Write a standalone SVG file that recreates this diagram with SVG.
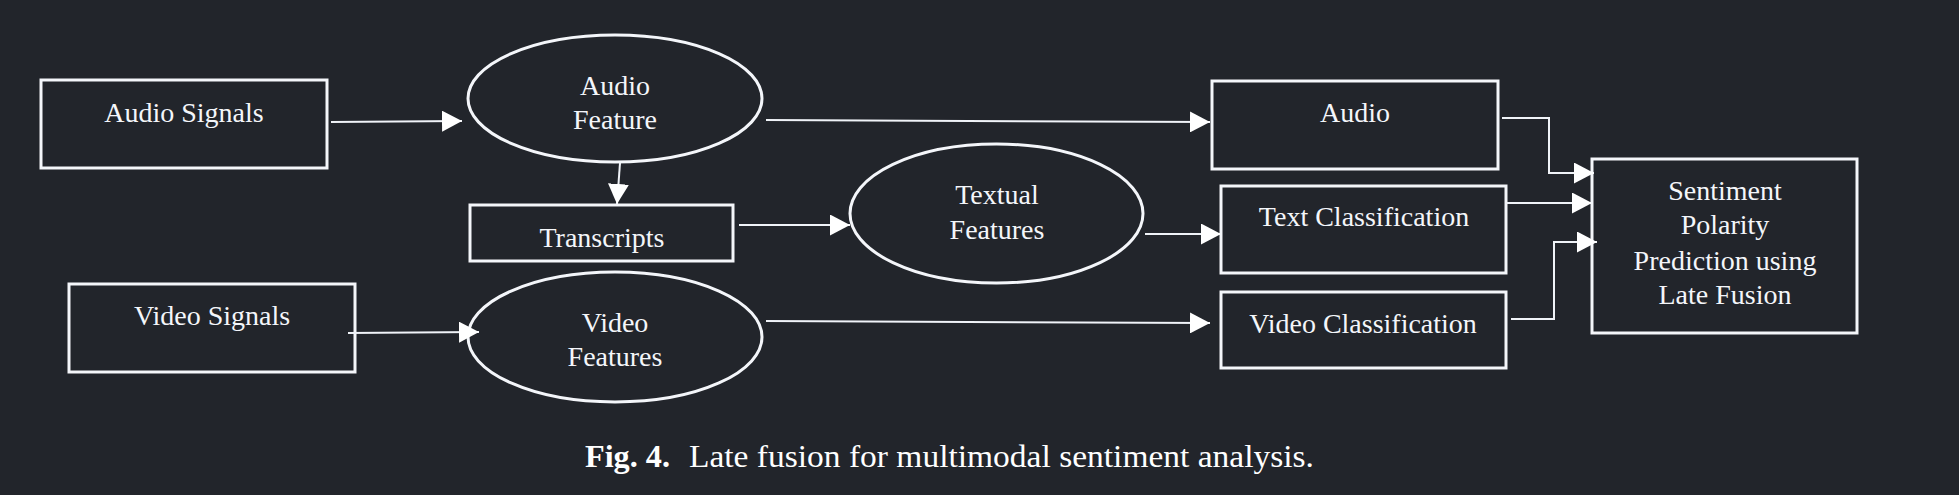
<svg xmlns="http://www.w3.org/2000/svg" width="1959" height="495" viewBox="0 0 1959 495">
<style>
.bg{fill:#22252b}
.box{fill:none;stroke:#f4f6fa;stroke-width:3}
.lbl{font-family:"Liberation Serif","Times New Roman",serif;font-size:28px;fill:#f4f6fa;text-anchor:middle}
.cap{font-family:"Liberation Serif","Times New Roman",serif;font-size:31px;fill:#ffffff}
.con{fill:none;stroke:#f0f3f8;stroke-width:2;marker-end:url(#ah)}
</style>
<defs>
<marker id="ah" viewBox="0 0 20 21" refX="20" refY="10.5" markerWidth="20" markerHeight="21" markerUnits="userSpaceOnUse" orient="auto">
<path d="M0,0 L20,10.5 L0,21 z" fill="#ffffff"/>
</marker>
</defs>
<rect class="bg" x="0" y="0" width="1959" height="495"/>
<g id="audio-signals">
<rect class="box" x="41" y="80" width="286" height="88"/>
<text class="lbl" x="184" y="122">Audio Signals</text>
</g>
<g id="audio-feature">
<ellipse class="box" cx="615" cy="98.5" rx="147" ry="63.5"/>
<text class="lbl" x="615" y="95">Audio</text>
<text class="lbl" x="615" y="129">Feature</text>
</g>
<g id="transcripts">
<rect class="box" x="470" y="205" width="263" height="56"/>
<text class="lbl" x="602" y="247">Transcripts</text>
</g>
<g id="video-signals">
<rect class="box" x="69" y="284" width="286" height="88"/>
<text class="lbl" x="212" y="325">Video Signals</text>
</g>
<g id="video-features">
<ellipse class="box" cx="615" cy="337" rx="147" ry="65"/>
<text class="lbl" x="615" y="332">Video</text>
<text class="lbl" x="615" y="366">Features</text>
</g>
<g id="textual-features">
<ellipse class="box" cx="996.5" cy="213.5" rx="146.5" ry="69.5"/>
<text class="lbl" x="997" y="204">Textual</text>
<text class="lbl" x="997" y="239">Features</text>
</g>
<g id="audio">
<rect class="box" x="1212" y="81" width="286" height="88"/>
<text class="lbl" x="1355" y="122">Audio</text>
</g>
<g id="text-classification">
<rect class="box" x="1221" y="186" width="285" height="87"/>
<text class="lbl" x="1364" y="226">Text Classification</text>
</g>
<g id="video-classification">
<rect class="box" x="1221" y="292" width="285" height="76"/>
<text class="lbl" x="1363" y="333">Video Classification</text>
</g>
<g id="sentiment">
<rect class="box" x="1592" y="159" width="265" height="174"/>
<text class="lbl" x="1725" y="200">Sentiment</text>
<text class="lbl" x="1725" y="234">Polarity</text>
<text class="lbl" x="1725" y="270">Prediction using</text>
<text class="lbl" x="1725" y="304">Late Fusion</text>
</g>
<g id="connectors">
<path class="con" d="M331,122 L462,121"/>
<path class="con" d="M620,163 L617,204"/>
<path class="con" d="M739,225 L850,225"/>
<path class="con" d="M766,120 L1210,122"/>
<path class="con" d="M1145,234 L1221,234"/>
<path class="con" d="M766,321 L1210,323"/>
<path class="con" d="M348,333 L479,332"/>
<path class="con" d="M1502,118 L1549,118 L1549,173 L1594,173"/>
<path class="con" d="M1507,203 L1592,203"/>
<path class="con" d="M1511,319 L1554,319 L1554,242 L1597,242"/>
</g>
<g id="caption">
<text class="cap" x="585" y="467" font-weight="bold" textLength="85" lengthAdjust="spacingAndGlyphs">Fig. 4.</text>
<text class="cap" x="689" y="467" textLength="625" lengthAdjust="spacingAndGlyphs">Late fusion for multimodal sentiment analysis.</text>
</g>
</svg>
